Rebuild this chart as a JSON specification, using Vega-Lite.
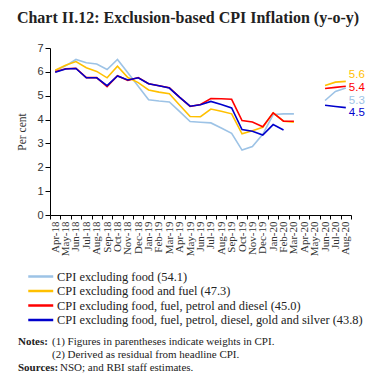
{
  "$schema": "https://vega.github.io/schema/vega-lite/v6.json",
  "background": "white",
  "padding": {"left": 16, "top": 10, "right": 5, "bottom": 5},
  "title": {"text": "Chart II.12: Exclusion-based CPI Inflation (y-o-y)", "anchor": "start", "font": "Liberation Serif", "fontSize": 16, "fontWeight": "bold", "color": "#222", "offset": 16},
  "config": {"view": {"stroke": null}, "font": "Liberation Serif"},
  "spacing": 79,
  "vconcat": [
    {
      "width": 301,
      "height": 167,
      "data": {"values": [
        {"month": "Apr-18", "s1": 6.05, "s2": 6.07, "s3": 6.0, "s4": 5.98},
        {"month": "May-18", "s1": 6.25, "s2": 6.28, "s3": 6.13, "s4": 6.12},
        {"month": "Jun-18", "s1": 6.52, "s2": 6.43, "s3": 6.15, "s4": 6.14},
        {"month": "Jul-18", "s1": 6.38, "s2": 6.17, "s3": 5.76, "s4": 5.75},
        {"month": "Aug-18", "s1": 6.33, "s2": 6.02, "s3": 5.76, "s4": 5.75},
        {"month": "Sep-18", "s1": 6.1, "s2": 5.75, "s3": 5.38, "s4": 5.42},
        {"month": "Oct-18", "s1": 6.52, "s2": 6.24, "s3": 5.84, "s4": 5.83},
        {"month": "Nov-18", "s1": 5.96, "s2": 5.76, "s3": 5.64, "s4": 5.66},
        {"month": "Dec-18", "s1": 5.4, "s2": 5.55, "s3": 5.76, "s4": 5.75},
        {"month": "Jan-19", "s1": 4.83, "s2": 5.24, "s3": 5.5, "s4": 5.5},
        {"month": "Feb-19", "s1": 4.78, "s2": 5.15, "s3": 5.42, "s4": 5.42},
        {"month": "Mar-19", "s1": 4.74, "s2": 5.08, "s3": 5.33, "s4": 5.32},
        {"month": "Apr-19", "s1": 4.33, "s2": 4.6, "s3": 4.93, "s4": 4.93},
        {"month": "May-19", "s1": 3.92, "s2": 4.13, "s3": 4.55, "s4": 4.56},
        {"month": "Jun-19", "s1": 3.89, "s2": 4.12, "s3": 4.63, "s4": 4.62},
        {"month": "Jul-19", "s1": 3.86, "s2": 4.44, "s3": 4.88, "s4": 4.76},
        {"month": "Aug-19", "s1": 3.65, "s2": 4.35, "s3": 4.87, "s4": 4.63},
        {"month": "Sep-19", "s1": 3.42, "s2": 4.24, "s3": 4.85, "s4": 4.49},
        {"month": "Oct-19", "s1": 2.72, "s2": 3.4, "s3": 3.96, "s4": 3.58},
        {"month": "Nov-19", "s1": 2.87, "s2": 3.53, "s3": 3.9, "s4": 3.51},
        {"month": "Dec-19", "s1": 3.38, "s2": 3.68, "s3": 3.7, "s4": 3.35},
        {"month": "Jan-20", "s1": 4.21, "s2": 4.28, "s3": 4.28, "s4": 3.79},
        {"month": "Feb-20", "s1": 4.24, "s2": 3.93, "s3": 3.93, "s4": 3.56},
        {"month": "Mar-20", "s1": 4.24, "s2": 3.89, "s3": 3.93, "s4": null},
        {"month": "Apr-20", "s1": null, "s2": null, "s3": null, "s4": null},
        {"month": "May-20", "s1": null, "s2": null, "s3": null, "s4": null},
        {"month": "Jun-20", "s1": 4.8, "s2": 5.43, "s3": 5.3, "s4": 4.6},
        {"month": "Jul-20", "s1": 5.18, "s2": 5.57, "s3": 5.35, "s4": 4.55},
        {"month": "Aug-20", "s1": 5.32, "s2": 5.6, "s3": 5.4, "s4": 4.5}
      ]},
      "transform": [{"fold": ["s1", "s2", "s3", "s4"], "as": ["series", "value"]}],
      "encoding": {
        "x": {
          "field": "month", "type": "ordinal",
          "scale": {"type": "band", "paddingInner": 0, "paddingOuter": 0, "domain": ["Apr-18","May-18","Jun-18","Jul-18","Aug-18","Sep-18","Oct-18","Nov-18","Dec-18","Jan-19","Feb-19","Mar-19","Apr-19","May-19","Jun-19","Jul-19","Aug-19","Sep-19","Oct-19","Nov-19","Dec-19","Jan-20","Feb-20","Mar-20","Apr-20","May-20","Jun-20","Jul-20","Aug-20"]},
          "axis": {"title": null, "labelAngle": -90, "labelFont": "Liberation Serif", "labelFontSize": 11, "labelColor": "#333", "tickBand": "extent", "tickSize": 4, "tickColor": "#000", "domainColor": "#000", "labelPadding": 2}
        },
        "y": {
          "field": "value", "type": "quantitative",
          "scale": {"domain": [0, 7]},
          "axis": {"values": [0,1,2,3,4,5,6,7], "grid": false, "domainColor": "#000", "tickColor": "#000", "tickSize": 5, "labelFont": "Liberation Sans", "labelFontSize": 11, "labelColor": "#333", "labelPadding": 2, "title": "Per cent", "titleFont": "Liberation Serif", "titleFontSize": 11.5, "titleFontWeight": "normal", "titleColor": "#333", "titlePadding": 9}
        }
      },
      "layer": [
        {
          "mark": {"type": "line", "strokeWidth": 1.6},
          "encoding": {
            "color": {
              "field": "series", "type": "nominal",
              "scale": {"domain": ["s1", "s2", "s3", "s4"], "range": ["#9DC3E6", "#FFC000", "#FF0000", "#0000CC"]},
              "legend": {
                "orient": "none", "legendX": -23, "legendY": 221, "direction": "vertical", "title": null, "padding": 0,
                "symbolType": "M-1,0H3", "symbolSize": 156, "symbolStrokeWidth": 2.5, "symbolFillColor": "transparent",
                "labelOffset": 15, "labelFont": "Liberation Serif", "labelFontSize": 12.4, "labelColor": "#222", "labelLimit": 400, "rowPadding": 0.5,
                "labelExpr": "datum.value == 's1' ? 'CPI excluding food (54.1)' : datum.value == 's2' ? 'CPI excluding food and fuel (47.3)' : datum.value == 's3' ? 'CPI excluding food, fuel, petrol and diesel (45.0)' : 'CPI excluding food, fuel, petrol, diesel, gold and silver (43.8)'"
              }
            }
          }
        },
        {
          "transform": [{"filter": "datum.month == 'Aug-20' && datum.series == 's2'"}],
          "mark": {"type": "text", "align": "left", "baseline": "middle", "dx": 3, "dy": -6.5, "font": "Liberation Sans", "fontSize": 11.5, "color": "#FFC000"},
          "encoding": {"text": {"field": "value", "type": "quantitative", "format": ".1f"}}
        },
        {
          "transform": [{"filter": "datum.month == 'Aug-20' && datum.series == 's3'"}],
          "mark": {"type": "text", "align": "left", "baseline": "middle", "dx": 3, "dy": 1.5, "font": "Liberation Sans", "fontSize": 11.5, "color": "#FF0000"},
          "encoding": {"text": {"field": "value", "type": "quantitative", "format": ".1f"}}
        },
        {
          "transform": [{"filter": "datum.month == 'Aug-20' && datum.series == 's1'"}],
          "mark": {"type": "text", "align": "left", "baseline": "middle", "dx": 3, "dy": 12.5, "font": "Liberation Sans", "fontSize": 11.5, "color": "#9DC3E6"},
          "encoding": {"text": {"field": "value", "type": "quantitative", "format": ".1f"}}
        },
        {
          "transform": [{"filter": "datum.month == 'Aug-20' && datum.series == 's4'"}],
          "mark": {"type": "text", "align": "left", "baseline": "middle", "dx": 3, "dy": 5.5, "font": "Liberation Sans", "fontSize": 11.5, "color": "#0000CC"},
          "encoding": {"text": {"field": "value", "type": "quantitative", "format": ".1f"}}
        }
      ]
    },
    {
      "width": 330,
      "height": 39,
      "data": {"values": [
        {"line": 1, "head": "Notes:", "body": "(1) Figures in parentheses indicate weights in CPI."},
        {"line": 2, "head": "", "body": "(2) Derived as residual from headline CPI."},
        {"line": 3, "head": "Sources:", "body": "NSO; and RBI staff estimates."}
      ]},
      "encoding": {
        "y": {"field": "line", "type": "ordinal", "axis": null, "scale": {"type": "point", "padding": 0.5}},
        "x": {"datum": 0, "type": "quantitative", "scale": {"domain": [0, 1]}, "axis": null}
      },
      "layer": [
        {
          "mark": {"type": "text", "align": "left", "baseline": "middle", "dx": -32, "font": "Liberation Serif", "fontSize": 11, "fontWeight": "bold", "color": "#222"},
          "encoding": {"text": {"field": "head"}}
        },
        {
          "transform": [{"filter": "datum.line != 3"}],
          "mark": {"type": "text", "align": "left", "baseline": "middle", "dx": 2, "font": "Liberation Serif", "fontSize": 11, "color": "#222"},
          "encoding": {"text": {"field": "body"}}
        },
        {
          "transform": [{"filter": "datum.line == 3"}],
          "mark": {"type": "text", "align": "left", "baseline": "middle", "dx": 10, "font": "Liberation Serif", "fontSize": 11, "color": "#222"},
          "encoding": {"text": {"field": "body"}}
        }
      ]
    }
  ]
}
